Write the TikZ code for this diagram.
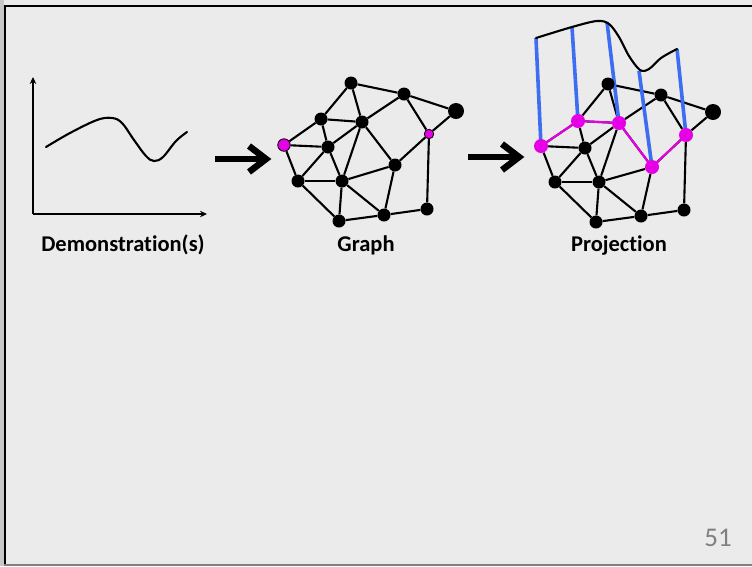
\documentclass[tikz,border=0pt]{standalone}
\usepackage{fontspec}
\setmainfont[Ligatures=NoCommon]{Carlito}
\usetikzlibrary{calc,arrows.meta}
\definecolor{bgc}{HTML}{EBEBEB}
\definecolor{mag}{HTML}{E600E6}
\definecolor{blu}{HTML}{3D6EF2}
\definecolor{numgray}{HTML}{808080}
\pgfdeclarelayer{back}
\pgfdeclarelayer{edges}
\pgfsetlayers{back,edges,main}
\begin{document}
\begin{tikzpicture}[x=1pt,y=-1pt,
  dot/.style={circle,fill=black,inner sep=0pt,minimum size=13pt},
  bigdot/.style={dot,minimum size=16pt},
  gmag/.style={circle,fill=mag,draw=black,line width=0.8pt,inner sep=0pt,minimum size=12.5pt},
  gmagsmall/.style={gmag,minimum size=9.5pt},
  pmag/.style={circle,fill=mag,inner sep=0pt,minimum size=14pt},
  edge/.style={line width=2.1pt,black},
  magedge/.style={line width=2.1pt,mag},
  bluline/.style={line width=3.6pt,blu},
  curve/.style={line width=2.1pt,black,line cap=round},
  axis/.style={line width=1.8pt,black,-{Stealth[length=7pt,width=6.5pt]}},
  bigarrow/.style={line width=6.5pt,black,line join=miter},
  lbl/.style={font=\fontsize{22.5}{24}\selectfont\bfseries,anchor=base,inner sep=0pt}]
\useasboundingbox (0,0) rectangle (752,566);
\begin{pgfonlayer}{back}
  \fill[bgc] (0,0) rectangle (752,566);
  \fill[black!22] (0,0) rectangle (3.5,566);
  \draw[black,line width=2.5pt] (5,566) -- (5,6) -- (752,6);
  \draw[numgray,line width=1.5pt] (4,565) -- (752,565);
\end{pgfonlayer}

% ---- Demonstration chart ----
\coordinate (orig) at (33,214);
\coordinate (ytop) at (33,77);
\coordinate (xend) at (207,214);
\draw[axis] (orig) -- (ytop);
\draw[axis] (orig) -- (xend);
\draw[curve] plot[smooth,tension=0.6] coordinates {(46,147) (70,133) (97,120) (112,118) (122,123) (134,140) (146,156) (154,161) (163,157) (176,141) (187,132)};
\node[lbl] (demo) at (123,251) {Demonstration(s)};

% ---- big arrows ----
\coordinate (a1s) at (215,159);
\coordinate (a1e) at (266,159);
\draw[bigarrow] (a1s) -- (a1e);
\draw[bigarrow] ($(a1e)+(-17,-13)$) -- (a1e) -- ($(a1e)+(-17,13)$);
\coordinate (a2s) at (468,157);
\coordinate (a2e) at (519,157);
\draw[bigarrow] (a2s) -- (a2e);
\draw[bigarrow] ($(a2e)+(-17,-13)$) -- (a2e) -- ($(a2e)+(-17,13)$);

% ---- Graph ----
\node[dot] (gA) at (351,83) {};
\node[dot] (gB) at (404,94) {};
\node[bigdot] (gC) at (456,111) {};
\node[dot] (gD) at (321,119) {};
\node[dot] (gE) at (362,122) {};
\node[gmagsmall] (gF) at (429,134) {};
\node[gmag] (gG) at (284,145) {};
\node[dot] (gH) at (328,147) {};
\node[dot] (gI) at (395,165) {};
\node[dot] (gJ) at (298,181) {};
\node[dot] (gK) at (342,181) {};
\node[dot] (gL) at (427,209) {};
\node[dot] (gM) at (384,215) {};
\node[dot] (gN) at (339,221) {};
\node[lbl] (glbl) at (366,251) {Graph};

% ---- Projection ----
\node[dot] (pA) at (608,84) {};
\node[dot] (pB) at (661,95) {};
\node[bigdot] (pC) at (713,112) {};
\node[pmag] (pD) at (578,121) {};
\node[pmag] (pE) at (619,123) {};
\node[pmag] (pF) at (686,135) {};
\node[pmag] (pG) at (541,146) {};
\node[dot] (pH) at (585,148) {};
\node[pmag] (pI) at (652,167) {};
\node[dot] (pJ) at (555,182) {};
\node[dot] (pK) at (599,182) {};
\node[dot] (pL) at (684,210) {};
\node[dot] (pM) at (641,216) {};
\node[dot] (pN) at (596,222) {};
\node[lbl] (plbl) at (619,251) {Projection};

\begin{pgfonlayer}{edges}
  \foreach \p in {g,p}{
    \foreach \a/\b in {A/B,A/D,A/E,B/C,B/E,B/F,C/F,D/E,D/G,D/H,G/H,G/J,H/J,H/E,H/K,E/K,E/I,J/K,J/N,K/N,K/M,K/I,I/F,I/M,M/N,M/L,L/F}{
      \draw[edge] (\p\a) -- (\p\b);
    }
  }
  \draw[magedge] (pG.center) -- (pD.center) -- (pE.center) -- (pI.center) -- (pF.center);
  \coordinate (T1) at (536,38);
  \coordinate (T2) at (572,27);
  \coordinate (T3) at (607,22);
  \coordinate (T4) at (639,71);
  \coordinate (T5) at (677,49);
  \draw[bluline] (pG.center) -- (T1);
  \draw[bluline] (pD.center) -- (T2);
  \draw[bluline] (pE.center) -- (T3);
  \draw[bluline] (pI.center) -- (T4);
  \draw[bluline] (pF.center) -- (T5);
  \draw[curve] plot[smooth,tension=0.55] coordinates {(T1) (T2) (597,21) (609,24) (619,37) (629,56) (640,70) (649,69) (661,58) (T5)};
\end{pgfonlayer}

\node[font=\fontsize{27}{30}\selectfont,text=numgray,inner sep=0pt] (pgnum) at (718,538) {51};
\end{tikzpicture}
\end{document}
